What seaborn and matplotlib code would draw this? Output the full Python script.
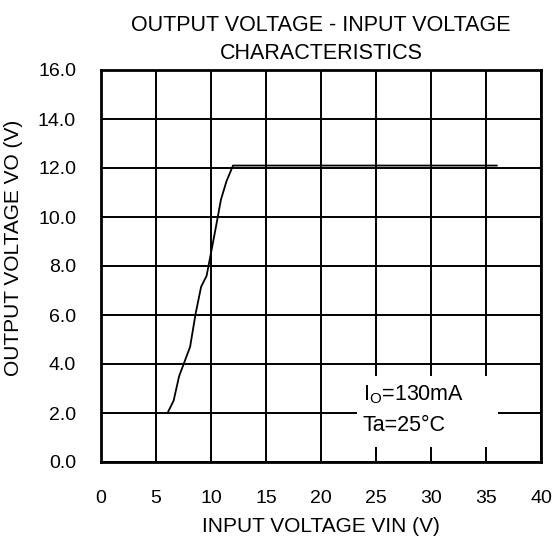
import matplotlib
matplotlib.use("Agg")
import matplotlib.pyplot as plt
import seaborn as sns
import pandas as pd
from matplotlib.patches import Rectangle

# Data
vin = [6.1, 6.6, 7.1, 7.6, 8.1, 8.6, 9.1, 9.6, 10.05, 10.45, 10.9, 11.4, 12.0, 36.0]
vout = [2.05, 2.5, 3.5, 4.1, 4.7, 6.05, 7.15, 7.6, 8.65, 9.6, 10.7, 11.45, 12.1, 12.1]
x_ticks = [0, 5, 10, 15, 20, 25, 30, 35, 40]
y_ticks = [0, 2, 4, 6, 8, 10, 12, 14, 16]
y_tick_labels = [f"{v:.1f}" for v in y_ticks]

sns.set_style("white")
plt.rcParams['font.family'] = ['Liberation Sans', 'DejaVu Sans']
plt.rcParams['text.color'] = 'black'
plt.rcParams['axes.labelcolor'] = 'black'

fig = plt.figure(figsize=(5.55, 5.38), dpi=100)
ax = fig.add_axes([101/555, 1 - 462/538, 440/555, 392/538])

df = pd.DataFrame({"vin": vin, "vout": vout})
sns.lineplot(data=df, x="vin", y="vout", sort=False, color="black", linewidth=1.3, ax=ax, zorder=3)

ax.set_xlim(0, 40)
ax.set_ylim(0, 16)
ax.set_xticks(x_ticks)
ax.set_yticks(y_ticks)
ax.set_yticklabels(y_tick_labels)
ax.tick_params(axis='both', length=0, labelsize=14, colors='black')
ax.tick_params(axis='y', pad=18)
ax.tick_params(axis='x', pad=20)

ax.set_axisbelow(True)
ax.grid(True, color='black', linewidth=1.4, zorder=0.5)
for s in ax.spines.values():
    s.set_color('black')
    s.set_linewidth(2)
    s.set_zorder(5)

# annotation box
ax.add_patch(Rectangle((23.3, 0.6), 12.8, 2.9, facecolor='white', edgecolor='none', zorder=1.5))
ax.text(23.8, 2.75, r"I$_\mathregular{O}$=130mA", fontsize=15.5, va='center', ha='left', zorder=4)
ax.text(23.8, 1.5, "Ta=25°C", fontsize=15.5, va='center', ha='left', zorder=4)

ax.set_xlabel("INPUT VOLTAGE VIN (V)", fontsize=15)
ax.set_ylabel("OUTPUT VOLTAGE VO (V)", fontsize=15)
ax.xaxis.set_label_coords(0.5, -0.141)
ax.yaxis.set_label_coords(-0.178, 0.546)
ax.set_title("OUTPUT VOLTAGE - INPUT VOLTAGE\nCHARACTERISTICS", fontsize=15.5, pad=8, linespacing=1.45)

fig.savefig("out.png", dpi=100)
